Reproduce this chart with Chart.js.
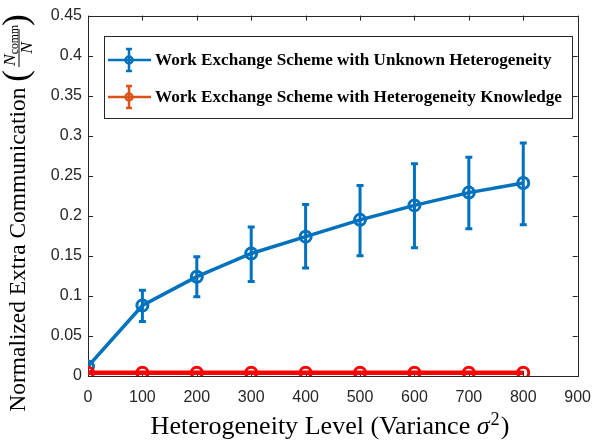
<!DOCTYPE html>
<html>
<head>
<meta charset="utf-8">
<script src="https://cdn.jsdelivr.net/npm/chart.js@4/dist/chart.umd.min.js"></script>
<style>
  html, body { margin: 0; padding: 0; background: #fff; }
</style>
</head>
<body>
<canvas id="myChart" width="603" height="443"></canvas>
<script>
// values
var variance = [0, 100, 200, 300, 400, 500, 600, 700, 800];
var unknownMean = [0.012, 0.088, 0.124, 0.153, 0.174, 0.195, 0.213, 0.229, 0.241];
var unknownLow  = [0.012, 0.068, 0.099, 0.118, 0.135, 0.150, 0.160, 0.184, 0.189];
var unknownHigh = [0.012, 0.107, 0.149, 0.186, 0.214, 0.238, 0.265, 0.273, 0.291];
var knownMean   = [0.004, 0.004, 0.004, 0.004, 0.004, 0.004, 0.004, 0.004, 0.004];
var xTicks = [0, 100, 200, 300, 400, 500, 600, 700, 800, 900];
var yTicks = [0, 0.05, 0.1, 0.15, 0.2, 0.25, 0.3, 0.35, 0.4, 0.45];
var seriesNames = ["Work Exchange Scheme with Unknown Heterogeneity",
                   "Work Exchange Scheme with Heterogeneity Knowledge"];

var blue = "#0072BD";
var red = "#FF0000";
var orange = "#D95319";
var axisCol = "#262626";

function pts(xs, ys){
  var out = [];
  for (var i = 0; i < xs.length; i++) out.push({x: xs[i], y: ys[i]});
  return out;
}

function fitFont(ctx, text, weight, family, target){
  ctx.font = weight + " 20px " + family;
  var w = ctx.measureText(text).width;
  return 20 * target / w;
}

var decor = {
  id: "decor",
  beforeDatasetsDraw: function(chart){
    var ctx = chart.ctx, a = chart.chartArea;
    var xs = chart.scales.x, ys = chart.scales.y;
    ctx.save();
    ctx.strokeStyle = axisCol;
    ctx.lineWidth = 1;
    ctx.strokeRect(Math.round(a.left) + 0.5, Math.round(a.top) + 0.5,
                   Math.round(a.right - a.left), Math.round(a.bottom - a.top));
    ctx.beginPath();
    xTicks.forEach(function(v){
      var px = Math.round(xs.getPixelForValue(v)) + 0.5;
      ctx.moveTo(px, a.bottom); ctx.lineTo(px, a.bottom - 5);
      ctx.moveTo(px, a.top); ctx.lineTo(px, a.top + 5);
    });
    yTicks.forEach(function(v){
      var py = Math.round(ys.getPixelForValue(v)) + 0.5;
      ctx.moveTo(a.left, py); ctx.lineTo(a.left + 5, py);
      ctx.moveTo(a.right, py); ctx.lineTo(a.right - 5, py);
    });
    ctx.stroke();
    ctx.restore();
  },
  afterDatasetsDraw: function(chart){
    var ctx = chart.ctx;
    var xs = chart.scales.x, ys = chart.scales.y;
    ctx.save();
    ctx.strokeStyle = blue;
    ctx.lineWidth = 3;
    for (var i = 0; i < variance.length; i++){
      if (unknownHigh[i] === unknownLow[i]) continue;
      var px = xs.getPixelForValue(variance[i]);
      var top = ys.getPixelForValue(unknownHigh[i]);
      var bot = ys.getPixelForValue(unknownLow[i]);
      ctx.beginPath();
      ctx.moveTo(px, top); ctx.lineTo(px, bot);
      ctx.moveTo(px - 3.5, top); ctx.lineTo(px + 3.5, top);
      ctx.moveTo(px - 3.5, bot); ctx.lineTo(px + 3.5, bot);
      ctx.stroke();
    }
    ctx.restore();
  },
  afterDraw: function(chart){
    var ctx = chart.ctx;
    ctx.save();
    // legend
    var L = {l: 104, t: 36, r: 572, b: 118};
    ctx.fillStyle = "#fff";
    ctx.fillRect(L.l, L.t, L.r - L.l, L.b - L.t);
    ctx.strokeStyle = axisCol;
    ctx.lineWidth = 1;
    ctx.strokeRect(L.l + 0.5, L.t + 0.5, L.r - L.l, L.b - L.t);
    var legCols = [blue, orange];
    var rows = [60, 97];
    var fs = fitFont(ctx, seriesNames[0], "bold", "'Liberation Serif'", 397);
    for (var k = 0; k < 2; k++){
      var y = rows[k], c = legCols[k];
      ctx.strokeStyle = c;
      ctx.lineWidth = 2.5;
      ctx.beginPath();
      ctx.moveTo(108, y); ctx.lineTo(151, y);
      ctx.moveTo(129, y - 11); ctx.lineTo(129, y + 11);
      ctx.moveTo(126, y - 11); ctx.lineTo(132, y - 11);
      ctx.moveTo(126, y + 11); ctx.lineTo(132, y + 11);
      ctx.stroke();
      ctx.beginPath();
      ctx.arc(129, y, 3.5, 0, Math.PI * 2);
      ctx.stroke();
      ctx.fillStyle = "#000";
      ctx.font = "bold " + fs.toFixed(2) + "px 'Liberation Serif'";
      ctx.textBaseline = "middle";
      ctx.textAlign = "left";
      ctx.fillText(seriesNames[k], 155, y + 1);
    }
    // x title
    ctx.fillStyle = "#000";
    ctx.textBaseline = "alphabetic";
    var xt1 = "Heterogeneity Level (Variance ";
    var xfs = fitFont(ctx, xt1 + "σ2)", "", "'Liberation Serif'", 362);
    ctx.font = xfs.toFixed(2) + "px 'Liberation Serif'";
    var w1 = ctx.measureText(xt1).width;
    ctx.font = "italic " + xfs.toFixed(2) + "px 'Liberation Serif'";
    var w2 = ctx.measureText("σ").width;
    ctx.font = (xfs * 0.7).toFixed(2) + "px 'Liberation Serif'";
    var w3 = ctx.measureText("2").width;
    ctx.font = xfs.toFixed(2) + "px 'Liberation Serif'";
    var w4 = ctx.measureText(")").width;
    var x0 = 329 - (w1 + w2 + w3 + w4) / 2, by = 434;
    ctx.textAlign = "left";
    ctx.fillText(xt1, x0, by);
    ctx.font = "italic " + xfs.toFixed(2) + "px 'Liberation Serif'";
    ctx.fillText("σ", x0 + w1, by);
    ctx.font = (xfs * 0.7).toFixed(2) + "px 'Liberation Serif'";
    ctx.fillText("2", x0 + w1 + w2 + 1, by - 9);
    ctx.font = xfs.toFixed(2) + "px 'Liberation Serif'";
    ctx.fillText(")", x0 + w1 + w2 + w3 + 2, by);
    // y title (rotated, with fraction)
    ctx.translate(25, 213);
    ctx.rotate(-Math.PI / 2);
    var yt = "Normalized Extra Communication ";
    var yfs = fitFont(ctx, yt, "", "'Liberation Serif'", 330);
    ctx.font = yfs.toFixed(2) + "px 'Liberation Serif'";
    var wy = ctx.measureText(yt).width;
    ctx.font = (yfs * 1.5).toFixed(2) + "px 'Liberation Serif'";
    var wp = ctx.measureText("(").width;
    var fracW = 38;
    var total = wy + wp * 2 + fracW + 6;
    var sx = -total / 2;
    ctx.font = yfs.toFixed(2) + "px 'Liberation Serif'";
    ctx.fillText(yt, sx, 0);
    ctx.font = (yfs * 1.5).toFixed(2) + "px 'Liberation Serif'";
    ctx.fillText("(", sx + wy, 2);
    var fx = sx + wy + wp + 3;
    ctx.font = "italic " + (yfs * 0.75).toFixed(2) + "px 'Liberation Serif'";
    ctx.fillText("N", fx + 1, -10);
    var nW = ctx.measureText("N").width;
    ctx.font = (yfs * 0.5).toFixed(2) + "px 'Liberation Serif'";
    ctx.fillText("comm", fx + 1 + nW, -7);
    ctx.fillRect(fx, -6.5, fracW, 1);
    ctx.font = "italic " + (yfs * 0.75).toFixed(2) + "px 'Liberation Serif'";
    ctx.textAlign = "center";
    ctx.fillText("N", fx + fracW / 2, 7);
    ctx.textAlign = "left";
    ctx.font = (yfs * 1.5).toFixed(2) + "px 'Liberation Serif'";
    ctx.fillText(")", fx + fracW + 3, 2);
    ctx.restore();
  }
};

var ctx = document.getElementById("myChart");
var chart = new Chart(ctx, {
  type: "line",
  data: {
    datasets: [{
      label: seriesNames[0],
      data: pts(variance, unknownMean),
      borderColor: blue,
      backgroundColor: "rgba(0,0,0,0)",
      borderWidth: 3.5,
      pointRadius: 5.5,
      pointBorderWidth: 3,
      pointBackgroundColor: "rgba(0,0,0,0)",
      pointBorderColor: blue,
      order: 1
    }, {
      label: seriesNames[1],
      data: pts(variance, knownMean),
      borderColor: red,
      backgroundColor: "rgba(0,0,0,0)",
      borderWidth: 4.5,
      pointRadius: 5.5,
      pointBorderWidth: 3,
      pointBackgroundColor: "rgba(0,0,0,0)",
      pointBorderColor: red,
      order: 0
    }]
  },
  options: {
    responsive: false,
    animation: false,
    events: [],
    layout: { padding: { left: 0, right: 25, top: 12, bottom: 0 } },
    plugins: { legend: { display: false }, tooltip: { enabled: false } },
    scales: {
      x: {
        type: "linear",
        min: 0, max: 900,
        afterBuildTicks: function(s){ s.ticks = xTicks.map(function(v){ return {value: v}; }); },
        afterFit: function(s){ s.height = 67; },
        grid: { display: false, drawTicks: false },
        border: { display: false },
        ticks: {
          color: axisCol, padding: 12, maxRotation: 0,
          font: { family: "'Liberation Sans', Arial", size: 16 }
        }
      },
      y: {
        min: 0, max: 0.45,
        afterBuildTicks: function(s){ s.ticks = yTicks.map(function(v){ return {value: v}; }); },
        afterFit: function(s){ s.width = 88; },
        grid: { display: false, drawTicks: false },
        border: { display: false },
        ticks: {
          color: axisCol, padding: 6,
          font: { family: "'Liberation Sans', Arial", size: 16 },
          callback: function(v){ return String(+Number(v).toFixed(2)); }
        }
      }
    }
  },
  plugins: [decor]
});
</script>
</body>
</html>
